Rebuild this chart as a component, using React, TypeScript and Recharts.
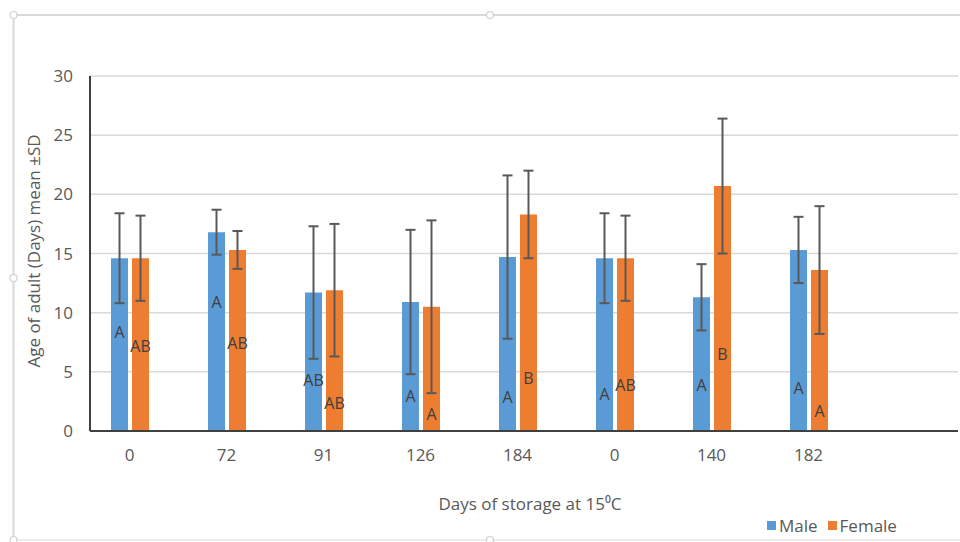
import React from "react";
import {
  ComposedChart,
  Bar,
  ErrorBar,
  LabelList,
  CartesianGrid,
  XAxis,
  YAxis,
  Label,
} from "recharts";

// days of storage (the second "0" is a separate group in the original)
const categories = ["0", "72", "91", "126", "184", "0", "140", "182"];
const maleMean = [14.6, 16.8, 11.7, 10.9, 14.7, 14.6, 11.3, 15.3];
const maleSd = [3.8, 1.9, 5.6, 6.1, 6.9, 3.8, 2.8, 2.8];
const femaleMean = [14.6, 15.3, 11.9, 10.5, 18.3, 14.6, 20.7, 13.6];
const femaleSd = [3.6, 1.6, 5.6, 7.3, 3.7, 3.6, 5.7, 5.4];
const maleLetters = ["A", "A", "AB", "A", "A", "A", "A", "A"];
const femaleLetters = ["AB", "AB", "AB", "A", "B", "AB", "B", "A"];
// height (in days) at which each letter sits inside its bar
const maleLetterAt = [8.4, 10.9, 4.3, 3.0, 2.9, 3.1, 3.9, 3.6];
const femaleLetterAt = [7.2, 7.4, 2.4, 1.4, 4.45, 3.9, 6.5, 1.7];
const yTicks = [0, 5, 10, 15, 20, 25, 30];

const BLUE = "#5B9BD5";
const ORANGE = "#ED7D31";
const FONT = "'Open Sans', sans-serif";
const GREY_TEXT = "#595959";
const FS = 17;

const data = categories.map((c, i) => ({
  idx: i,
  male: maleMean[i],
  maleSd: maleSd[i],
  female: femaleMean[i],
  femaleSd: femaleSd[i],
}));

function letterLabel(letters: string[], at: number[], means: number[]) {
  return (props: any) => {
    const vb = props.viewBox ?? {};
    const x = props.x ?? vb.x;
    const y = props.y ?? vb.y;
    const width = props.width ?? vb.width;
    const height = props.height ?? vb.height;
    const i = props.index;
    if (i == null || x == null) return null;
    const perUnit = height / means[i];
    const cy = y + height - at[i] * perUnit;
    return (
      <text
        key={`l-${i}`}
        x={x + width / 2}
        y={cy}
        textAnchor="middle"
        dominantBaseline="central"
        fontFamily={FONT}
        fontSize={16}
        fill="#404040"
      >
        {letters[i]}
      </text>
    );
  };
}

function Frame() {
  const handles = [
    [13.5, 15],
    [490, 15],
    [13.5, 278],
    [13.5, 540],
    [490, 540],
  ];
  return (
    <svg
      width={960}
      height={542}
      style={{ position: "absolute", left: 0, top: 0 }}
    >
      <line x1={13.5} y1={15} x2={960} y2={15} stroke="#d9d9d9" strokeWidth={2} />
      <line x1={13.5} y1={15} x2={13.5} y2={542} stroke="#d9d9d9" strokeWidth={2} />
      <line x1={13.5} y1={540} x2={960} y2={540} stroke="#e6e6e6" strokeWidth={1.5} />
      {handles.map(([x, y], i) => (
        <circle key={i} cx={x} cy={y} r={3.5} fill="#fff" stroke="#d0d0d0" strokeWidth={1.2} />
      ))}
    </svg>
  );
}

function Legend() {
  const item = (color: string, text: string) => (
    <span style={{ display: "inline-flex", alignItems: "center", marginRight: 10 }}>
      <span
        style={{
          display: "inline-block",
          width: 9,
          height: 9,
          background: color,
          marginRight: 3,
        }}
      />
      {text}
    </span>
  );
  return (
    <div
      style={{
        position: "absolute",
        left: 767,
        top: 513,
        fontFamily: FONT,
        fontSize: FS,
        color: GREY_TEXT,
        whiteSpace: "nowrap",
        lineHeight: "22px",
      }}
    >
      {item(BLUE, "Male")}
      {item(ORANGE, "Female")}
    </div>
  );
}

export default function App() {
  return (
    <div
      style={{
        position: "absolute",
        left: 0,
        top: 0,
        width: 960,
        height: 542,
        background: "#fff",
        overflow: "hidden",
      }}
    >
      <Frame />
      <div style={{ position: "absolute", left: 0, top: 0 }}>
        <ComposedChart
          width={960}
          height={542}
          data={data}
          margin={{ top: 76, right: 2, bottom: 81, left: 0 }}
          barSize={17}
          barGap={4}
        >
          <CartesianGrid vertical={false} stroke="#d9d9d9" strokeWidth={1.5} />
          <XAxis
            dataKey="idx"
            type="category"
            height={30}
            padding={{ left: -9, right: 101 }}
            tickFormatter={(v: number) => categories[v]}
            tickLine={false}
            tickSize={0}
            tickMargin={18}
            axisLine={{ stroke: "#404040", strokeWidth: 2 }}
            tick={{ fill: GREY_TEXT, fontSize: FS, fontFamily: FONT }}
          >
            <Label
              content={() => (
                <text
                  x={530}
                  y={503}
                  textAnchor="middle"
                  dominantBaseline="central"
                  fontFamily={FONT}
                  fontSize={FS}
                  fill={GREY_TEXT}
                >
                  Days of storage at 15⁰C
                </text>
              )}
            />
          </XAxis>
          <YAxis
            width={90}
            domain={[0, 30]}
            ticks={yTicks}
            interval={0}
            tickLine={false}
            tickSize={0}
            tickMargin={17}
            axisLine={{ stroke: "#404040", strokeWidth: 2 }}
            tick={{ fill: GREY_TEXT, fontSize: FS, fontFamily: FONT }}
          >
            <Label
              content={() => (
                <text
                  x={33.5}
                  y={251}
                  transform="rotate(-90 33.5 251)"
                  textAnchor="middle"
                  dominantBaseline="central"
                  fontFamily={FONT}
                  fontSize={FS}
                  fill={GREY_TEXT}
                >
                  Age of adult (Days) mean ±SD
                </text>
              )}
            />
          </YAxis>
          <Bar dataKey="male" name="Male" fill={BLUE} isAnimationActive={false}>
            <ErrorBar
              dataKey="maleSd"
              width={5}
              stroke="#595959"
              strokeWidth={2}
              direction="y"
            />
            <LabelList
              dataKey="male"
              content={letterLabel(maleLetters, maleLetterAt, maleMean)}
            />
          </Bar>
          <Bar dataKey="female" name="Female" fill={ORANGE} isAnimationActive={false}>
            <ErrorBar
              dataKey="femaleSd"
              width={5}
              stroke="#595959"
              strokeWidth={2}
              direction="y"
            />
            <LabelList
              dataKey="female"
              content={letterLabel(femaleLetters, femaleLetterAt, femaleMean)}
            />
          </Bar>
        </ComposedChart>
      </div>
      <Legend />
    </div>
  );
}
